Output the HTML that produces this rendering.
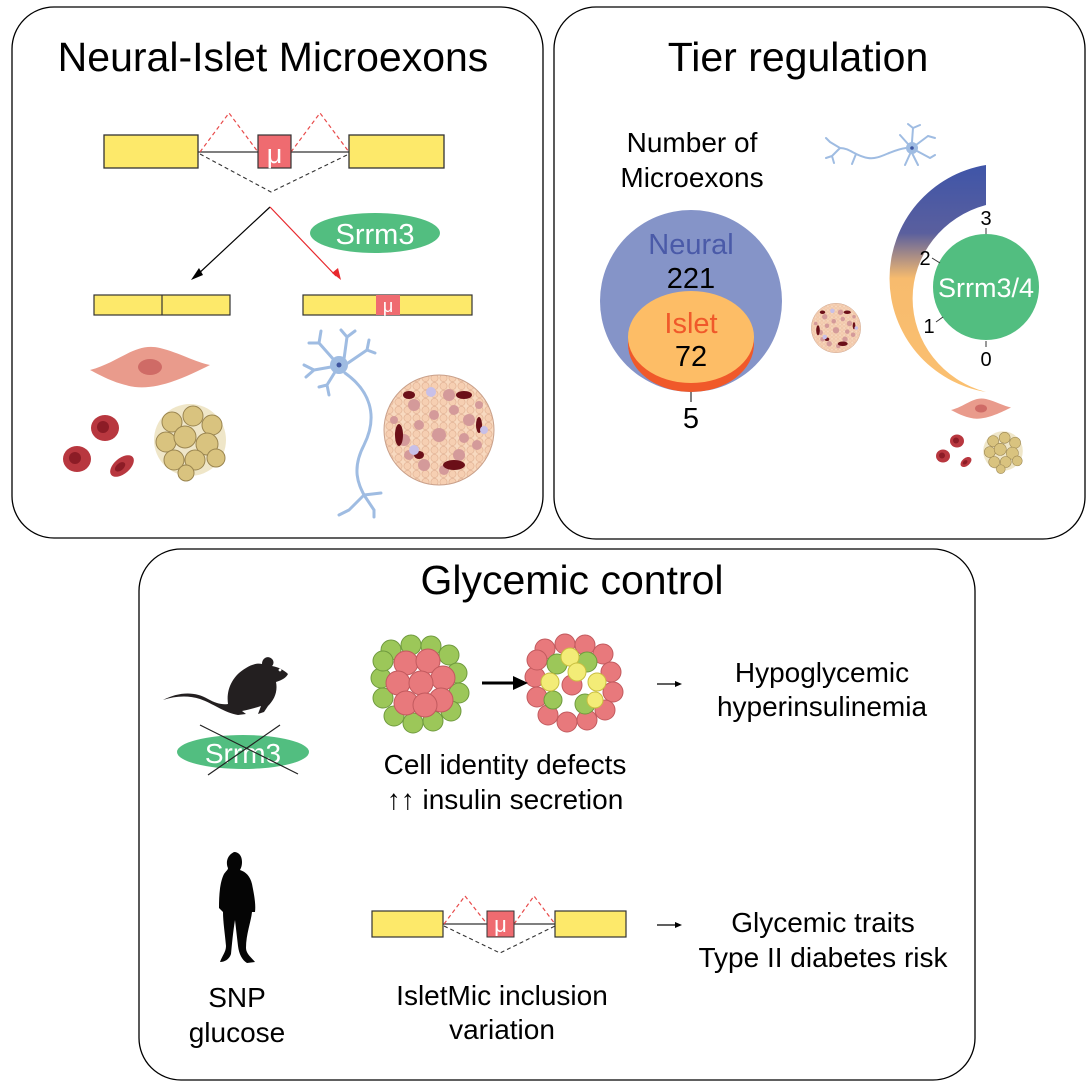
<!DOCTYPE html>
<html><head><meta charset="utf-8"><style>
html,body{margin:0;padding:0;background:#fff;}
svg{display:block;font-family:"Liberation Sans",Arial,sans-serif;}
</style></head><body>
<svg width="1088" height="1087" viewBox="0 0 1088 1087" xmlns="http://www.w3.org/2000/svg">
<defs>
<linearGradient id="arcg" x1="0" y1="0" x2="0" y2="1">
<stop offset="0" stop-color="#3f55a8"/><stop offset="0.3" stop-color="#5a5f9e"/><stop offset="0.5" stop-color="#f7bb6e"/><stop offset="1" stop-color="#fbc070"/>
</linearGradient>
<pattern id="cells" width="9" height="8" patternUnits="userSpaceOnUse">
<rect width="9" height="8" fill="#f8d9bf"/>
<circle cx="4.5" cy="4" r="3.6" fill="#f6cfb2" stroke="#dfae90" stroke-width="0.6"/>
</pattern>
<g id="islet">
<circle cx="0" cy="0" r="55" fill="url(#cells)" stroke="#c9a08a" stroke-width="1"/>
<g fill="#d49a9a"><circle cx="-25" cy="-25" r="6"/><circle cx="10" cy="-35" r="6"/><circle cx="30" cy="-10" r="6"/><circle cx="-35" cy="10" r="6"/><circle cx="0" cy="5" r="7"/><circle cx="20" cy="25" r="6"/><circle cx="-15" cy="35" r="6"/><circle cx="-5" cy="-15" r="5"/><circle cx="38" cy="15" r="5"/><circle cx="-20" cy="-5" r="5"/><circle cx="15" cy="-20" r="5"/><circle cx="-30" cy="25" r="5"/><circle cx="5" cy="40" r="5"/><circle cx="40" cy="-25" r="4"/><circle cx="-45" cy="-10" r="4"/><circle cx="25" cy="8" r="5"/></g>
<g fill="#6b0f18"><ellipse cx="-40" cy="5" rx="4" ry="11"/><ellipse cx="15" cy="35" rx="11" ry="5"/><ellipse cx="25" cy="-35" rx="8" ry="4"/><ellipse cx="-30" cy="-35" rx="6" ry="4"/><ellipse cx="40" cy="-5" rx="3" ry="8"/><ellipse cx="-20" cy="25" rx="5" ry="4"/></g>
<g fill="#c8c0e8"><circle cx="-8" cy="-38" r="5"/><circle cx="-25" cy="20" r="5"/><circle cx="45" cy="0" r="4"/></g>
</g>
<g id="fat">
<circle cx="0" cy="0" r="36" fill="#efe6c8"/>
<g fill="#d9c37f" stroke="#9a8550" stroke-width="1">
<circle cx="-18" cy="-18" r="10"/><circle cx="3" cy="-24" r="10"/><circle cx="22" cy="-15" r="10"/><circle cx="-24" cy="2" r="10"/><circle cx="-5" cy="-3" r="11"/><circle cx="17" cy="4" r="11"/><circle cx="-16" cy="20" r="10"/><circle cx="5" cy="20" r="10"/><circle cx="26" cy="18" r="9"/><circle cx="-4" cy="33" r="8"/></g>
</g>
<g id="rbc">
<ellipse cx="0" cy="0" rx="14" ry="13" fill="#b8373f"/><ellipse cx="-2" cy="-1" rx="6" ry="6" fill="#8c1c26"/>
</g>
<g id="muscle">
<path d="M-60,0 C-30,-8 -15,-28 10,-22 C30,-17 45,-8 60,-5 C40,5 10,20 -15,17 C-35,14 -50,5 -60,0Z" fill="#e99b8c"/>
<ellipse cx="0" cy="-3" rx="12" ry="8" fill="#cf6b66"/>
</g>
<g id="neuron" fill="none" stroke="#9fbce2" stroke-width="3" stroke-linecap="round">
<circle cx="0" cy="0" r="9" fill="#9fbce2" stroke="none"/><circle cx="0" cy="0" r="2.5" fill="#3e55a0" stroke="none"/>
<path d="M-5,-5 L-20,-22 M-20,-22 L-30,-22 M-20,-22 L-18,-34 M5,-6 L8,-28 M8,-28 L2,-35 M8,-28 L16,-34 M9,-2 L28,-15 M28,-15 L36,-12 M28,-15 L30,-25 M-8,2 L-25,5 M-25,5 L-33,12 M-25,5 L-35,0 M-4,7 L-12,20 M-12,20 L-20,22 M-12,20 L-10,30"/>
<path d="M6,8 C30,25 40,50 25,80 C12,105 20,120 25,130 M25,130 L10,145 M25,130 L35,145 M25,130 L42,128 M10,145 L0,150 M35,145 L35,152"/>
</g>
<g id="cl1">
<g fill="#9cc759" stroke="#6f9a3e" stroke-width="1">
<circle cx="-30" cy="-33" r="10"/><circle cx="-10" cy="-38" r="10"/><circle cx="10" cy="-37" r="10"/><circle cx="28" cy="-28" r="10"/><circle cx="36" cy="-10" r="10"/><circle cx="38" cy="10" r="10"/><circle cx="30" cy="28" r="10"/><circle cx="12" cy="38" r="10"/><circle cx="-8" cy="40" r="10"/><circle cx="-27" cy="33" r="10"/><circle cx="-38" cy="15" r="10"/><circle cx="-40" cy="-5" r="10"/><circle cx="-38" cy="-22" r="10"/></g>
<g fill="#e8797c" stroke="#c25a5e" stroke-width="1">
<circle cx="-15" cy="-20" r="12"/><circle cx="7" cy="-22" r="12"/><circle cx="22" cy="-5" r="12"/><circle cx="-23" cy="0" r="12"/><circle cx="0" cy="0" r="12"/><circle cx="20" cy="17" r="12"/><circle cx="-15" cy="20" r="12"/><circle cx="4" cy="22" r="12"/></g>
</g>
<g id="cl2">
<g fill="#e8797c" stroke="#c25a5e" stroke-width="1">
<circle cx="-30" cy="-33" r="10"/><circle cx="-10" cy="-38" r="10"/><circle cx="10" cy="-37" r="10"/><circle cx="28" cy="-28" r="10"/><circle cx="36" cy="-10" r="10"/><circle cx="38" cy="10" r="10"/><circle cx="30" cy="28" r="10"/><circle cx="12" cy="38" r="10"/><circle cx="-8" cy="40" r="10"/><circle cx="-27" cy="33" r="10"/><circle cx="-38" cy="15" r="10"/><circle cx="-40" cy="-5" r="10"/><circle cx="-38" cy="-22" r="10"/><circle cx="-3" cy="3" r="10"/></g>
<g fill="#9cc759" stroke="#6f9a3e" stroke-width="1"><circle cx="-18" cy="-18" r="10"/><circle cx="12" cy="-20" r="10"/><circle cx="-22" cy="18" r="9"/><circle cx="10" cy="22" r="10"/></g>
<g fill="#f3ec77" stroke="#c9bf40" stroke-width="1"><circle cx="-5" cy="-25" r="9"/><circle cx="2" cy="-10" r="9"/><circle cx="-25" cy="0" r="9"/><circle cx="22" cy="0" r="9"/><circle cx="20" cy="18" r="8"/></g>
</g>
</defs>

<!-- Panels -->
<rect x="12" y="7" width="531" height="531" rx="42" fill="#fff" stroke="#000" stroke-width="1.3"/>
<rect x="554" y="7" width="531" height="532" rx="42" fill="#fff" stroke="#000" stroke-width="1.3"/>
<rect x="139" y="549" width="836" height="531" rx="42" fill="#fff" stroke="#000" stroke-width="1.3"/>

<text x="273" y="71" font-size="41" text-anchor="middle">Neural-Islet Microexons</text>
<text x="798" y="71" font-size="41" text-anchor="middle">Tier regulation</text>
<text x="572" y="594" font-size="41" text-anchor="middle">Glycemic control</text>

<!-- Panel 1 exon diagram -->
<line x1="198" y1="152" x2="258" y2="152" stroke="#333" stroke-width="1.2"/>
<line x1="291" y1="152" x2="349" y2="152" stroke="#333" stroke-width="1.2"/>
<polyline points="200,152 229,113 258,152" fill="none" stroke="#e84a4a" stroke-width="1.2" stroke-dasharray="4,3"/>
<polyline points="291,152 320,113 349,152" fill="none" stroke="#e84a4a" stroke-width="1.2" stroke-dasharray="4,3"/>
<polyline points="200,154 271,192 349,154" fill="none" stroke="#333" stroke-width="1.1" stroke-dasharray="4,3"/>
<rect x="104" y="135" width="94" height="33" fill="#fde96a" stroke="#333" stroke-width="1.3"/>
<rect x="349" y="135" width="95" height="33" fill="#fde96a" stroke="#333" stroke-width="1.3"/>
<rect x="258" y="135" width="33" height="33" fill="#ef6b70" stroke="#333" stroke-width="1.2"/>
<text x="274.5" y="163" font-size="27" fill="#fff" text-anchor="middle">μ</text>
<line x1="270" y1="207" x2="196" y2="276" stroke="#000" stroke-width="1.2"/>
<polygon points="191,280 199,268 203,275" fill="#000"/>
<line x1="270" y1="207" x2="336" y2="276" stroke="#e8282d" stroke-width="1.2"/>
<polygon points="341,280 332,273 338,268" fill="#e8282d"/>
<ellipse cx="375" cy="233" rx="65" ry="20" fill="#52be80"/>
<text x="375" y="244" font-size="29" fill="#fff" text-anchor="middle">Srrm3</text>
<rect x="94" y="295" width="136" height="20" fill="#fde96a" stroke="#333" stroke-width="1.2"/>
<line x1="162" y1="295" x2="162" y2="315" stroke="#333" stroke-width="1.2"/>
<rect x="303" y="295" width="169" height="20" fill="#fde96a" stroke="#333" stroke-width="1.2"/>
<rect x="376" y="295" width="24" height="20" fill="#ef6b70"/>
<text x="388" y="312" font-size="18" fill="#fff" text-anchor="middle">μ</text>

<use href="#muscle" x="150" y="370"/>
<use href="#rbc" x="105" y="428"/>
<use href="#rbc" x="77" y="459"/>
<g transform="translate(122,466) rotate(-40) scale(1,0.6)"><use href="#rbc"/></g>
<use href="#fat" x="190" y="440"/>
<use href="#neuron" x="339" y="365"/>
<use href="#islet" x="439" y="430"/>

<!-- Panel 2 -->
<text x="692" y="152" font-size="28" text-anchor="middle">Number of</text>
<text x="692" y="187" font-size="28" text-anchor="middle">Microexons</text>
<circle cx="691" cy="301" r="91" fill="#8594c8"/>
<clipPath id="cc"><circle cx="691" cy="301" r="91"/></clipPath>
<ellipse cx="691" cy="344" rx="63" ry="48" fill="#f0592a" clip-path="url(#cc)"/>
<ellipse cx="691" cy="337" rx="63" ry="46" fill="#fdbd66"/>
<text x="691" y="254" font-size="29" fill="#4a5aa8" text-anchor="middle">Neural</text>
<text x="691" y="288" font-size="29" text-anchor="middle">221</text>
<text x="691" y="333" font-size="29" fill="#f0592a" text-anchor="middle">Islet</text>
<text x="691" y="366" font-size="29" text-anchor="middle">72</text>
<line x1="691" y1="392" x2="691" y2="402" stroke="#000" stroke-width="1"/>
<text x="691" y="428" font-size="29" text-anchor="middle">5</text>

<!-- small neuron top right, horizontal -->
<g fill="none" stroke="#9fbce2" stroke-width="2" stroke-linecap="round">
<circle cx="912" cy="148" r="6" fill="#9fbce2" stroke="none"/><circle cx="912" cy="148" r="1.8" fill="#3e55a0" stroke="none"/>
<path d="M908,144 L900,135 M912,142 L913,128 M913,128 L908,124 M913,128 L920,125 M916,145 L928,136 M928,136 L935,138 M917,151 L930,158 M930,158 L935,155 M910,154 L905,165 M912,153 L918,165"/>
<path d="M906,148 C890,150 880,160 868,158 C855,156 850,148 840,148 M840,148 L830,142 M840,148 L832,156 M832,156 L826,158 M832,156 L834,163 M830,142 L826,138 M856,154 L852,164"/>
</g>
<use href="#islet" transform="translate(836,328) scale(0.45)"/>
<path d="M986,165 A115,115 0 0 0 986,392 A100,97 0 0 1 986,205 Z" fill="url(#arcg)"/>
<circle cx="986" cy="287" r="53" fill="#52be80"/>
<text x="986" y="297" font-size="27" fill="#fff" text-anchor="middle">Srrm3/4</text>
<line x1="986" y1="228" x2="986" y2="234" stroke="#333"/>
<text x="986" y="225" font-size="20" text-anchor="middle">3</text>
<line x1="986" y1="341" x2="986" y2="347" stroke="#333"/>
<text x="986" y="366" font-size="20" text-anchor="middle">0</text>
<line x1="932" y1="258" x2="940" y2="263" stroke="#333"/>
<text x="925" y="265" font-size="20" text-anchor="middle">2</text>
<line x1="936" y1="322" x2="943" y2="317" stroke="#333"/>
<text x="929" y="333" font-size="20" text-anchor="middle">1</text>
<use href="#muscle" transform="translate(981,410) scale(0.5)"/>
<use href="#rbc" transform="translate(957,441) scale(0.5)"/>
<use href="#rbc" transform="translate(943,456) scale(0.5)"/>
<g transform="translate(966,462) rotate(-40) scale(0.45,0.3)"><use href="#rbc"/></g>
<use href="#fat" transform="translate(1003,451) scale(0.55)"/>

<!-- Panel 3 mouse -->
<path d="M163,700 C178,692 195,691 208,699 C215,703 222,705 228,704 C226,690 232,676 246,668 C252,664 258,663 262,664 C262,658 268,655 272,659 C274,661 274,664 272,666 C278,667 284,670 288,674 C286,678 282,680 276,682 C278,692 274,700 268,706 L264,712 L258,714 L261,706 C255,708 248,710 242,711 L246,714 L238,715 C225,713 212,703 200,699 C188,695 175,696 163,700Z" fill="#231f20"/>
<circle cx="280" cy="670" r="1.4" fill="#fff"/>
<ellipse cx="243" cy="752" rx="66" ry="17" fill="#52be80"/>
<text x="243" y="763" font-size="28" fill="#fff" text-anchor="middle">Srrm3</text>
<line x1="200" y1="725" x2="298" y2="774" stroke="#222" stroke-width="1.2"/>
<line x1="280" y1="725" x2="208" y2="775" stroke="#222" stroke-width="1.2"/>

<use href="#cl1" x="421" y="683"/>
<use href="#cl2" x="575" y="682"/>
<line x1="482" y1="683" x2="515" y2="683" stroke="#000" stroke-width="3"/>
<polygon points="528,683 513,676 513,690" fill="#000"/>
<text x="505" y="774" font-size="28" text-anchor="middle">Cell identity defects</text>
<text x="505" y="809" font-size="28" text-anchor="middle">↑↑ insulin secretion</text>
<line x1="657" y1="684" x2="677" y2="684" stroke="#000" stroke-width="1.2"/>
<polygon points="682,684 675,681 675,687" fill="#000"/>
<text x="822" y="682" font-size="28" text-anchor="middle">Hypoglycemic</text>
<text x="822" y="716" font-size="28" text-anchor="middle">hyperinsulinemia</text>

<path d="M234,852 C239,852 242,856 242,862 C242,866 241,868 240,870 C246,872 250,876 252,884 C254,894 256,904 255,912 L252,912 C251,922 246,934 246,948 C246,954 252,958 255,962 L247,963 C242,960 239,954 238,946 L235,920 C233,932 232,944 231,954 C229,960 224,962 220,962 C222,956 226,952 226,946 C225,934 223,922 223,912 L219,908 C219,894 220,882 224,874 C226,871 228,870 228,868 C226,864 226,856 234,852Z" fill="#050505"/>
<text x="237" y="1007" font-size="28" text-anchor="middle">SNP</text>
<text x="237" y="1042" font-size="28" text-anchor="middle">glucose</text>

<line x1="443" y1="924" x2="487" y2="924" stroke="#333" stroke-width="1.2"/>
<line x1="514" y1="924" x2="555" y2="924" stroke="#333" stroke-width="1.2"/>
<polyline points="444,924 465,896 487,924" fill="none" stroke="#e84a4a" stroke-width="1.2" stroke-dasharray="4,3"/>
<polyline points="514,924 534,896 555,924" fill="none" stroke="#e84a4a" stroke-width="1.2" stroke-dasharray="4,3"/>
<polyline points="444,926 500,953 555,926" fill="none" stroke="#333" stroke-width="1.1" stroke-dasharray="4,3"/>
<rect x="372" y="911" width="71" height="26" fill="#fde96a" stroke="#333" stroke-width="1.2"/>
<rect x="555" y="911" width="71" height="26" fill="#fde96a" stroke="#333" stroke-width="1.2"/>
<rect x="487" y="911" width="27" height="26" fill="#ef6b70" stroke="#333" stroke-width="1"/>
<text x="500.5" y="932" font-size="22" fill="#fff" text-anchor="middle">μ</text>
<text x="502" y="1005" font-size="28" text-anchor="middle">IsletMic inclusion</text>
<text x="502" y="1039" font-size="28" text-anchor="middle">variation</text>
<line x1="657" y1="925" x2="677" y2="925" stroke="#000" stroke-width="1.2"/>
<polygon points="682,925 675,922 675,928" fill="#000"/>
<text x="823" y="932" font-size="28" text-anchor="middle">Glycemic traits</text>
<text x="823" y="967" font-size="28" text-anchor="middle">Type II diabetes risk</text>
</svg>
</body></html>
